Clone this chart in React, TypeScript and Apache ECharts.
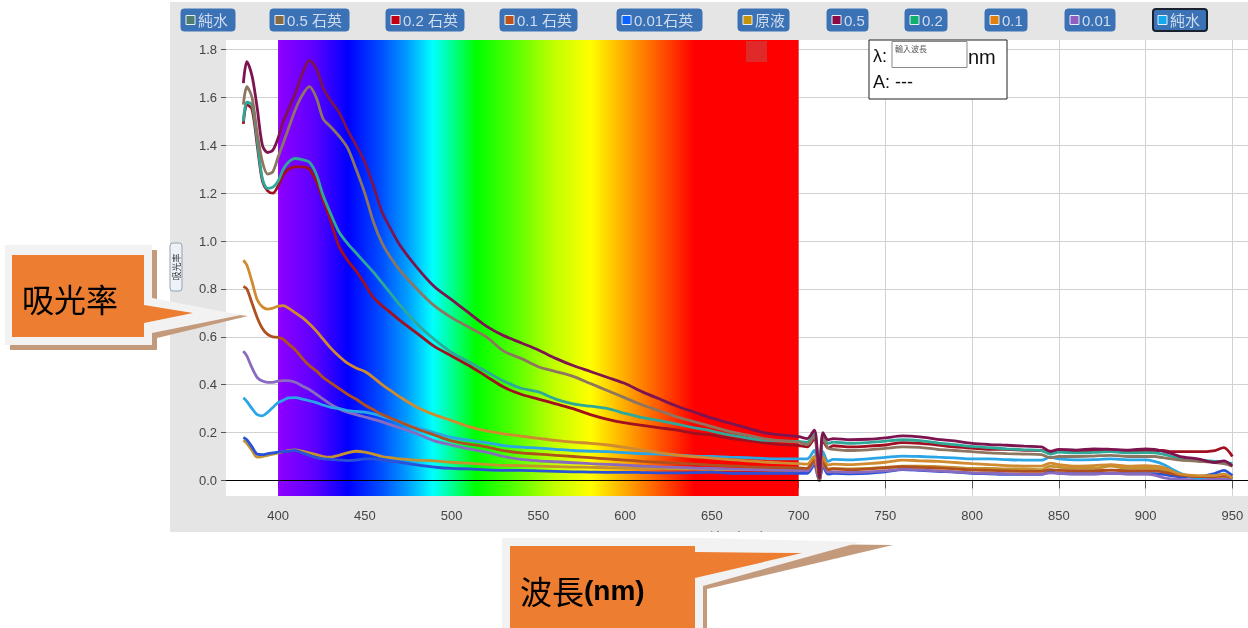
import React, { useEffect, useRef } from "react";
import * as echarts from "echarts";

// ---------- data ----------
const WAVELENGTHS = [
  380, 382, 385, 388, 391, 394, 397, 400,
  403, 406, 410, 414, 418, 422, 426, 430,
  435, 440, 445, 450, 455, 460, 465, 470,
  480, 490, 500, 510, 520, 530, 540, 550,
  560, 570, 580, 590, 600, 610, 620, 630,
  640, 650, 660, 670, 680, 690, 700,
  705, 709, 711, 712, 714, 717, 720,
  730, 740, 750, 760, 770, 780, 790, 800,
  810, 820, 830, 840, 845, 850, 860, 870,
  880, 890, 900, 905, 910, 915, 920, 930,
  940, 945, 950,
];

const X_TICKS = [400, 450, 500, 550, 600, 650, 700, 750, 800, 850, 900, 950];
const Y_TICKS = [0, 0.2, 0.4, 0.6, 0.8, 1.0, 1.2, 1.4, 1.6, 1.8];
const SPECTRUM_RANGE = [400, 700];

const LEGEND_LABELS = ["純水", "0.5 石英", "0.2 石英", "0.1 石英", "0.01石英", "原液", "0.5", "0.2", "0.1", "0.01", "純水"];
const LEGEND_COLORS = ["#4f7d6d", "#8a6a40", "#c00012", "#c0521a", "#0a62ff", "#c8920a", "#8a0a48", "#12b070", "#e08010", "#9060c0", "#12a8f0"];

const S_05 = [
  1.66, 1.75, 1.69, 1.555, 1.40, 1.37, 1.38, 1.43,
  1.50, 1.55, 1.62, 1.70, 1.755, 1.72, 1.64, 1.59,
  1.54, 1.465, 1.40, 1.33, 1.23, 1.12, 1.05, 0.985,
  0.89, 0.81, 0.755, 0.70, 0.645, 0.605, 0.575, 0.545,
  0.51, 0.48, 0.455, 0.43, 0.405, 0.37, 0.34, 0.31,
  0.285, 0.26, 0.24, 0.22, 0.20, 0.19, 0.183,
  0.175, 0.21, 0.10, 0.01, 0.20, 0.17, 0.175,
  0.17, 0.172, 0.178, 0.186, 0.182, 0.172, 0.165, 0.155,
  0.15, 0.147, 0.143, 0.14, 0.122, 0.13, 0.127, 0.132,
  0.13, 0.127, 0.132, 0.13, 0.122, 0.112, 0.10, 0.09,
  0.075, 0.082, 0.06,
];
const S_05Q = [
  1.57, 1.645, 1.60, 1.45, 1.33, 1.28, 1.29, 1.35,
  1.41, 1.47, 1.55, 1.61, 1.645, 1.60, 1.51, 1.48,
  1.44, 1.39, 1.30, 1.20, 1.08, 0.99, 0.93, 0.88,
  0.80, 0.73, 0.68, 0.64, 0.60, 0.54, 0.51, 0.475,
  0.455, 0.435, 0.405, 0.375, 0.345, 0.315, 0.29, 0.265,
  0.245, 0.225, 0.205, 0.19, 0.175, 0.165, 0.16,
  0.15, 0.185, 0.09, 0.005, 0.18, 0.135, 0.13,
  0.125, 0.128, 0.134, 0.14, 0.138, 0.13, 0.125, 0.12,
  0.115, 0.112, 0.11, 0.108, 0.095, 0.10, 0.10, 0.102,
  0.105, 0.10, 0.10, 0.10, 0.095, 0.09, 0.085, 0.08,
  0.075, 0.07, 0.06,
];
const S_02 = [
  1.50, 1.58, 1.57, 1.42, 1.26, 1.22, 1.225, 1.25,
  1.30, 1.33, 1.345, 1.34, 1.33, 1.28, 1.19, 1.12,
  1.04, 0.99, 0.95, 0.91, 0.87, 0.825, 0.78, 0.735,
  0.655, 0.59, 0.535, 0.495, 0.455, 0.415, 0.385, 0.37,
  0.34, 0.32, 0.31, 0.30, 0.28, 0.262, 0.25, 0.235,
  0.22, 0.206, 0.19, 0.178, 0.168, 0.165, 0.163,
  0.16, 0.195, 0.09, 0.005, 0.19, 0.155, 0.16,
  0.155, 0.158, 0.164, 0.17, 0.166, 0.157, 0.15, 0.142,
  0.137, 0.132, 0.128, 0.125, 0.11, 0.118, 0.115, 0.117,
  0.12, 0.115, 0.116, 0.115, 0.11, 0.10, 0.092, 0.085,
  0.08, 0.078, 0.07,
];
const S_02Q = [
  1.49, 1.57, 1.55, 1.40, 1.25, 1.21, 1.20, 1.23,
  1.275, 1.30, 1.31, 1.31, 1.30, 1.25, 1.17, 1.09,
  0.98, 0.92, 0.875, 0.82, 0.764, 0.73, 0.70, 0.67,
  0.615, 0.56, 0.52, 0.48, 0.435, 0.39, 0.36, 0.34,
  0.32, 0.30, 0.275, 0.255, 0.24, 0.23, 0.22, 0.21,
  0.197, 0.19, 0.176, 0.167, 0.157, 0.15, 0.146,
  0.14, 0.175, 0.08, 0.005, 0.17, 0.135, 0.145,
  0.14, 0.143, 0.148, 0.158, 0.155, 0.148, 0.14, 0.135,
  0.13, 0.13, 0.126, 0.125, 0.12, 0.125, 0.12, 0.125,
  0.125, 0.12, 0.125, 0.125, 0.125, 0.12, 0.12, 0.12,
  0.125, 0.137, 0.10,
];
const S_01 = [
  0.92, 0.90, 0.83, 0.755, 0.725, 0.716, 0.72, 0.728,
  0.73, 0.72, 0.70, 0.68, 0.655, 0.625, 0.59, 0.556,
  0.52, 0.49, 0.47, 0.455, 0.43, 0.40, 0.375, 0.35,
  0.306, 0.275, 0.25, 0.225, 0.207, 0.195, 0.185, 0.176,
  0.167, 0.16, 0.155, 0.148, 0.138, 0.127, 0.115, 0.106,
  0.099, 0.093, 0.087, 0.082, 0.077, 0.073, 0.07,
  0.068, 0.10, 0.04, 0.0, 0.10, 0.065, 0.068,
  0.066, 0.07, 0.076, 0.085, 0.082, 0.08, 0.075, 0.07,
  0.066, 0.062, 0.06, 0.06, 0.072, 0.066, 0.06, 0.062,
  0.066, 0.06, 0.062, 0.06, 0.055, 0.04, 0.026, 0.02,
  0.02, 0.026, 0.01,
];
const S_01Q = [
  0.81, 0.80, 0.74, 0.68, 0.635, 0.61, 0.60, 0.598,
  0.59, 0.57, 0.545, 0.51, 0.48, 0.458, 0.43, 0.41,
  0.385, 0.36, 0.34, 0.315, 0.295, 0.275, 0.26, 0.245,
  0.215, 0.19, 0.165, 0.152, 0.14, 0.125, 0.115, 0.11,
  0.105, 0.10, 0.095, 0.09, 0.085, 0.08, 0.076, 0.072,
  0.068, 0.064, 0.061, 0.058, 0.056, 0.054, 0.052,
  0.05, 0.085, 0.03, 0.0, 0.082, 0.045, 0.048,
  0.045, 0.048, 0.053, 0.058, 0.055, 0.052, 0.048, 0.044,
  0.042, 0.04, 0.038, 0.038, 0.045, 0.042, 0.04, 0.04,
  0.043, 0.04, 0.04, 0.04, 0.035, 0.028, 0.022, 0.016,
  0.016, 0.02, 0.01,
];
const S_001 = [
  0.54, 0.52, 0.47, 0.43, 0.415, 0.41, 0.41, 0.415,
  0.417, 0.417, 0.41, 0.395, 0.38, 0.36, 0.34, 0.32,
  0.30, 0.285, 0.275, 0.265, 0.255, 0.245, 0.232, 0.22,
  0.195, 0.165, 0.148, 0.132, 0.118, 0.10, 0.088, 0.082,
  0.078, 0.074, 0.07, 0.067, 0.064, 0.06, 0.057, 0.055,
  0.052, 0.05, 0.048, 0.046, 0.045, 0.043, 0.042,
  0.04, 0.075, 0.02, 0.0, 0.07, 0.035, 0.036,
  0.034, 0.036, 0.04, 0.046, 0.044, 0.04, 0.036, 0.032,
  0.03, 0.028, 0.026, 0.026, 0.032, 0.03, 0.027, 0.027,
  0.03, 0.027, 0.026, 0.022, 0.012, 0.006, 0.004, 0.003,
  0.004, 0.005, 0.003,
];
const S_WATER = [
  0.345, 0.33, 0.30, 0.275, 0.27, 0.285, 0.305, 0.325,
  0.335, 0.345, 0.346, 0.34, 0.333, 0.325, 0.315, 0.306,
  0.30, 0.292, 0.288, 0.285, 0.278, 0.268, 0.257, 0.245,
  0.222, 0.20, 0.18, 0.168, 0.158, 0.145, 0.139, 0.135,
  0.13, 0.125, 0.122, 0.12, 0.116, 0.112, 0.11, 0.106,
  0.102, 0.10, 0.097, 0.095, 0.092, 0.09, 0.09,
  0.09, 0.125, 0.05, 0.0, 0.12, 0.08, 0.088,
  0.086, 0.09, 0.096, 0.102, 0.10, 0.097, 0.094, 0.09,
  0.09, 0.087, 0.085, 0.085, 0.097, 0.09, 0.086, 0.087,
  0.09, 0.086, 0.086, 0.08, 0.068, 0.048, 0.03, 0.01,
  0.02, 0.026, 0.008,
];
const S_001Q = [
  0.18, 0.17, 0.14, 0.11, 0.108, 0.112, 0.115, 0.118,
  0.12, 0.122, 0.125, 0.115, 0.105, 0.095, 0.09, 0.088,
  0.085, 0.083, 0.085, 0.09, 0.09, 0.085, 0.08, 0.076,
  0.065, 0.056, 0.05, 0.048, 0.044, 0.042, 0.042, 0.04,
  0.038, 0.036, 0.035, 0.034, 0.034, 0.033, 0.032, 0.032,
  0.033, 0.035, 0.03, 0.03, 0.03, 0.03, 0.03,
  0.03, 0.065, 0.02, 0.0, 0.06, 0.026, 0.03,
  0.028, 0.03, 0.036, 0.045, 0.042, 0.038, 0.035, 0.03,
  0.028, 0.025, 0.025, 0.025, 0.036, 0.03, 0.028, 0.028,
  0.03, 0.028, 0.028, 0.028, 0.025, 0.02, 0.015, 0.015,
  0.03, 0.042, 0.02,
];
const S_STOCK = [
  0.167, 0.155, 0.125, 0.097, 0.10, 0.105, 0.11, 0.115,
  0.12, 0.125, 0.128, 0.122, 0.115, 0.108, 0.10, 0.097,
  0.105, 0.115, 0.122, 0.118, 0.11, 0.10, 0.095, 0.09,
  0.085, 0.082, 0.076, 0.072, 0.067, 0.063, 0.062, 0.06,
  0.058, 0.056, 0.055, 0.053, 0.052, 0.05, 0.05, 0.048,
  0.047, 0.046, 0.045, 0.045, 0.044, 0.043, 0.043,
  0.05, 0.085, 0.03, 0.0, 0.08, 0.048, 0.05,
  0.048, 0.05, 0.055, 0.06, 0.06, 0.058, 0.055, 0.05,
  0.05, 0.048, 0.048, 0.045, 0.06, 0.055, 0.05, 0.05,
  0.06, 0.05, 0.05, 0.05, 0.045, 0.03, 0.02, 0.012,
  0.01, 0.012, 0.005,
];

const SERIES_NAMES = ["原液", "0.01石英", "0.01", "純水", "0.1 石英", "0.1", "0.2 石英", "0.2", "0.5 石英", "0.5"];
const SERIES_VALUES = [S_STOCK, S_001Q, S_001, S_WATER, S_01Q, S_01, S_02Q, S_02, S_05Q, S_05];
const SERIES_COLORS = ["#c4922e", "#2a52d8", "#8a6abf", "#2aa6e6", "#b0501e", "#d08a30", "#a01020", "#2ea898", "#8d7560", "#7d1450"];

// ---------- layout (not data) ----------
const LEGEND_BOX = [
  [181, 54], [270, 79], [386, 78], [500, 77], [617, 85],
  [738, 51], [827, 41], [905, 42], [985, 42], [1065, 50], [1153, 54],
];

export default function App() {
  const ref = useRef<HTMLDivElement>(null);

  useEffect(() => {
    if (!ref.current) return;
    const chart = echarts.init(ref.current, undefined, { renderer: "svg" });
    const latin = "'Liberation Sans', Arial, 'Noto Sans CJK TC', sans-serif";
    const cjk = "'Noto Sans CJK TC', 'Noto Sans CJK SC', sans-serif";

    const graphic: any[] = [];
    // grey screenshot background
    graphic.push({ type: "rect", z: -10, silent: true, shape: { x: 170, y: 2, width: 1078, height: 530 }, style: { fill: "#e5e5e5" } });

    // legend buttons
    LEGEND_LABELS.forEach((label, i) => {
      const [x, w] = LEGEND_BOX[i];
      const last = i === LEGEND_LABELS.length - 1;
      graphic.push({
        type: "rect", z: 10, silent: true,
        shape: { x, y: 9, width: w, height: 22, r: 3 },
        style: { fill: "#3b72b6", stroke: last ? "#18212d" : "#3b72b6", lineWidth: last ? 2 : 1 },
      });
      graphic.push({
        type: "rect", z: 11, silent: true,
        shape: { x: x + 5, y: 15.5, width: 9, height: 9 },
        style: { fill: LEGEND_COLORS[i], stroke: "#e6edf5", lineWidth: 1 },
      });
      graphic.push({
        type: "text", z: 11, silent: true, x: x + 17, y: 20.5,
        style: { text: label, fontSize: 15, fontFamily: latin, fill: "#cfdced", verticalAlign: "middle" },
      });
    });

    // small red square at top of red band
    graphic.push({ type: "rect", z: 3, silent: true, shape: { x: 746, y: 41, width: 21, height: 21 }, style: { fill: "#e02a2a" } });

    // wavelength input box
    graphic.push({ type: "rect", z: 30, silent: true, shape: { x: 869, y: 40, width: 138, height: 59 }, style: { fill: "#fff", stroke: "#222", lineWidth: 1 } });
    graphic.push({ type: "rect", z: 31, silent: true, shape: { x: 892, y: 41.5, width: 75, height: 26 }, style: { fill: "#fff", stroke: "#8a8a8a", lineWidth: 1 } });
    graphic.push({ type: "text", z: 32, silent: true, x: 873, y: 56, style: { text: "λ:", fontSize: 18, fontFamily: latin, fill: "#111", verticalAlign: "middle" } });
    graphic.push({ type: "text", z: 32, silent: true, x: 895, y: 48, style: { text: "輸入波長", fontSize: 8, fontFamily: cjk, fill: "#555", verticalAlign: "middle" } });
    graphic.push({ type: "text", z: 32, silent: true, x: 968, y: 57, style: { text: "nm", fontSize: 20, fontFamily: latin, fill: "#111", verticalAlign: "middle" } });
    graphic.push({ type: "text", z: 32, silent: true, x: 873, y: 82, style: { text: "A: ---", fontSize: 18, fontFamily: latin, fill: "#111", verticalAlign: "middle" } });

    // y-axis name (rotated button)
    graphic.push({
      type: "group", x: 176, y: 267, rotation: Math.PI / 2, z: 5, silent: true,
      children: [
        { type: "rect", z: 5, shape: { x: -24, y: -6, width: 48, height: 12, r: 3 }, style: { fill: "#eef2f7", stroke: "#8fa3b8", lineWidth: 1 } },
        { type: "text", z: 6, style: { text: "吸光率", fontSize: 9, fontFamily: cjk, fill: "#333", align: "center", verticalAlign: "middle" } },
      ],
    });

    // white strip under the grey area
    graphic.push({ type: "rect", z: 35, silent: true, shape: { x: 170, y: 532, width: 1078, height: 8 }, style: { fill: "#fff" } });

    // left callout
    graphic.push({ type: "polygon", z: 40, silent: true, shape: { points: [[10, 250], [157, 250], [157, 305], [248, 316], [157, 338], [157, 350], [10, 350]] }, style: { fill: "#c49a7c" } });
    graphic.push({ type: "polygon", z: 41, silent: true, shape: { points: [[5, 245], [152, 245], [152, 298], [241, 315], [152, 333], [152, 345], [5, 345]] }, style: { fill: "#f2f2f2" } });
    graphic.push({ type: "polygon", z: 42, silent: true, shape: { points: [[12, 255], [144, 255], [144, 305], [193, 313], [144, 323], [144, 337], [12, 337]] }, style: { fill: "#ed7d31" } });
    graphic.push({ type: "text", z: 43, silent: true, x: 22, y: 298, style: { text: "吸光率", fontSize: 32, fontFamily: cjk, fill: "#000", verticalAlign: "middle" } });

    // bottom callout
    graphic.push({ type: "polygon", z: 40, silent: true, shape: { points: [[507, 543], [708, 543], [893, 545], [707, 589], [707, 640], [507, 640]] }, style: { fill: "#c49a7c" } });
    graphic.push({ type: "polygon", z: 41, silent: true, shape: { points: [[502, 538], [703, 538], [861, 542], [703, 586], [703, 640], [502, 640]] }, style: { fill: "#f2f2f2" } });
    graphic.push({ type: "polygon", z: 42, silent: true, shape: { points: [[510, 546], [695, 546], [695, 552], [802, 553], [695, 578], [695, 640], [510, 640]] }, style: { fill: "#ed7d31" } });
    graphic.push({
      type: "text", z: 43, silent: true, x: 520, y: 590,
      style: {
        text: "{a|波長}{b|(nm)}", verticalAlign: "middle",
        rich: {
          a: { fontSize: 32, fontFamily: cjk, fill: "#000", color: "#000" },
          b: { fontSize: 28, fontFamily: latin, fontWeight: "bold", fill: "#000", color: "#000" },
        },
      },
    });

    const gradient = new echarts.graphic.LinearGradient(0, 0, 1, 0, [
      { offset: 0.0, color: "#8f00ff" },
      { offset: 0.07, color: "#5c00ff" },
      { offset: 0.135, color: "#0000ff" },
      { offset: 0.2, color: "#0050ff" },
      { offset: 0.25, color: "#00a0ff" },
      { offset: 0.297, color: "#00ffff" },
      { offset: 0.335, color: "#00ff90" },
      { offset: 0.38, color: "#00ff00" },
      { offset: 0.45, color: "#50ff00" },
      { offset: 0.53, color: "#c0ff00" },
      { offset: 0.6, color: "#ffff00" },
      { offset: 0.7, color: "#ff8000" },
      { offset: 0.8, color: "#ff0000" },
      { offset: 1.0, color: "#ff0000" },
    ]);

    const series: any[] = SERIES_NAMES.map((name, si) => ({
      type: "line",
      name,
      data: WAVELENGTHS.map((w, i) => [w, SERIES_VALUES[si][i]]),
      showSymbol: false,
      symbol: "none",
      smooth: 0.3,
      silent: true,
      z: 2,
      lineStyle: { color: SERIES_COLORS[si], width: 2.8 },
      itemStyle: { color: SERIES_COLORS[si] },
      emphasis: { disabled: true },
    }));
    series[0].markArea = {
      silent: true,
      label: { show: false },
      itemStyle: { color: gradient, opacity: 1 },
      emphasis: { disabled: true },
      data: [[{ xAxis: SPECTRUM_RANGE[0] }, { xAxis: SPECTRUM_RANGE[1] }]],
    };
    series[0].markLine = {
      silent: true,
      symbol: "none",
      label: { show: false },
      lineStyle: { color: "#000", width: 1, type: "solid" },
      emphasis: { disabled: true },
      data: [{ yAxis: 0 }],
    };

    chart.setOption({
      animation: false,
      backgroundColor: "transparent",
      grid: { left: 226, top: 40, width: 1022, height: 456, show: true, backgroundColor: "#ffffff", borderWidth: 0, containLabel: false },
      graphic,
      xAxis: {
        type: "value",
        min: 370,
        max: 959,
        splitNumber: 12,
        name: "波長(nm)",
        nameLocation: "middle",
        nameGap: 34,
        nameTextStyle: { fontSize: 13, color: "#333", fontFamily: cjk },
        axisLine: { show: false },
        axisTick: { show: true, length: 8, customValues: X_TICKS, lineStyle: { color: "#555" } },
        axisLabel: { customValues: X_TICKS, fontSize: 13, color: "#444", margin: 13, fontFamily: latin },
        splitLine: { show: true, lineStyle: { color: "#d2d2d2", width: 1 } },
      },
      yAxis: {
        type: "value",
        min: -0.065,
        max: 1.84,
        splitNumber: 10,
        axisLine: { show: false },
        axisTick: { show: true, length: 5, customValues: Y_TICKS, lineStyle: { color: "#555" } },
        axisLabel: {
          customValues: Y_TICKS, fontSize: 13, color: "#444", margin: 9, fontFamily: latin,
          formatter: (v: number) => v.toFixed(1),
        },
        splitLine: { show: true, lineStyle: { color: "#d2d2d2", width: 1 } },
      },
      series,
    });

    return () => chart.dispose();
  }, []);

  return <div ref={ref} style={{ position: "fixed", left: 0, top: 0, width: 1248, height: 628 }} />;
}
